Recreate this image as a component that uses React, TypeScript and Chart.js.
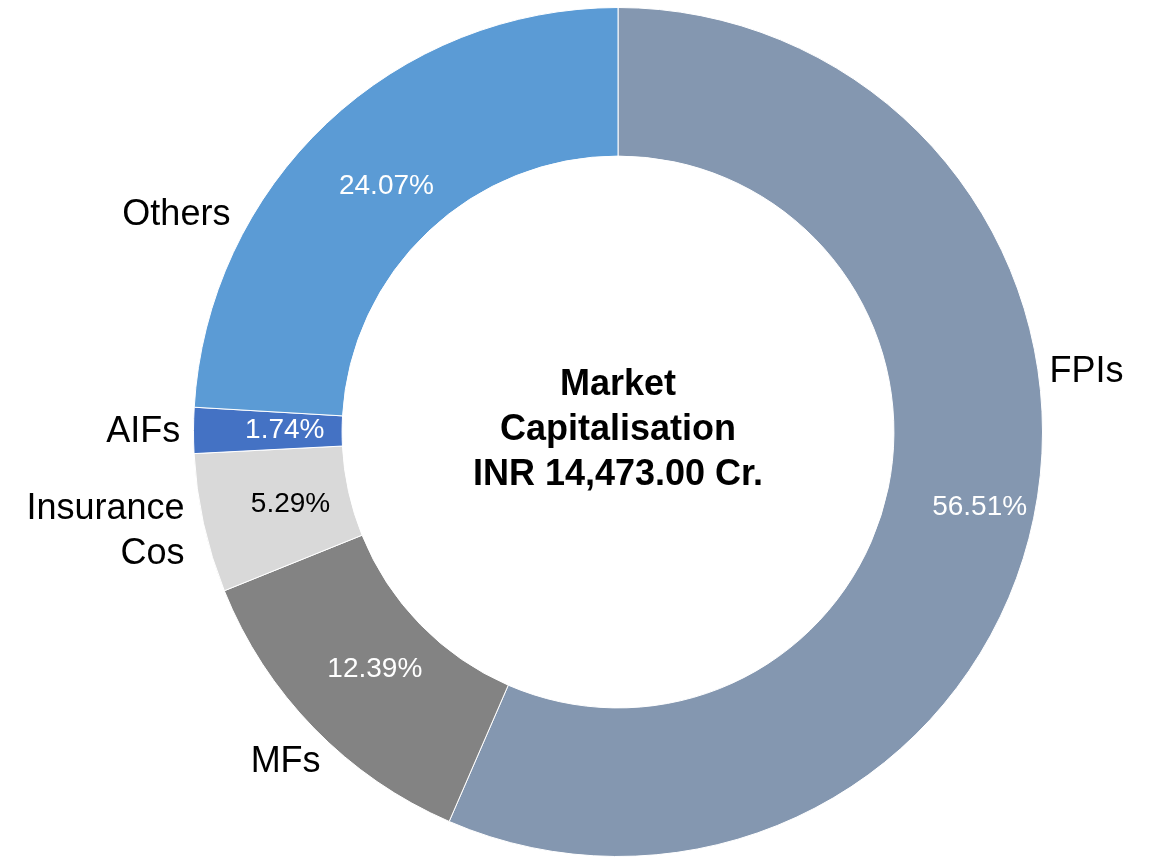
import React, { useEffect, useRef } from "react";
import { Chart, registerables } from "chart.js";

Chart.register(...registerables);

const categories: string[] = ["FPIs", "MFs", "Insurance Cos", "AIFs", "Others"];
const shares: number[] = [56.51, 12.39, 5.29, 1.74, 24.07];
const sliceColors: string[] = ["#8497B0", "#838383", "#D9D9D9", "#4472C4", "#5B9BD5"];
const valueTextColors: string[] = ["#FFFFFF", "#FFFFFF", "#000000", "#FFFFFF", "#FFFFFF"];
const centerLines: string[] = ["Market", "Capitalisation", "INR 14,473.00 Cr."];

// label layout: value label radius (fraction between centre and outer edge)
const valueRadius: number[] = [0.87, 0.8, 0.79, 0.785, 0.795];
// category label anchors: angle (deg clockwise from top), radius factor, alignment
const catAngle: number[] = [82.1, 222, 257, 270, 299.2];
const catRadius: number[] = [1.026, 1.047, 1.048, 1.031, 1.046];
const catAlign: CanvasTextAlign[] = ["left", "right", "right", "right", "right"];

const FONT = '"Liberation Sans", Arial, sans-serif';

const labelPlugin = {
  id: "labelPlugin",
  afterDatasetsDraw(chart: any) {
    const ctx: CanvasRenderingContext2D = chart.ctx;
    const meta = chart.getDatasetMeta(0);
    ctx.save();
    let cx = 0, cy = 0, outer = 0;
    meta.data.forEach((arc: any, i: number) => {
      cx = arc.x; cy = arc.y; outer = arc.outerRadius;
      const mid = (arc.startAngle + arc.endAngle) / 2;
      const r = arc.outerRadius * valueRadius[i];
      ctx.font = `28px ${FONT}`;
      ctx.fillStyle = valueTextColors[i];
      ctx.textAlign = "center";
      ctx.textBaseline = "middle";
      ctx.fillText(shares[i].toFixed(2) + "%", arc.x + r * Math.cos(mid), arc.y + r * Math.sin(mid));
    });
    // category labels
    ctx.font = `36px ${FONT}`;
    ctx.fillStyle = "#000000";
    ctx.textBaseline = "middle";
    categories.forEach((name, i) => {
      const a = (catAngle[i] * Math.PI) / 180 - Math.PI / 2;
      const r = outer * catRadius[i];
      const x = cx + r * Math.cos(a);
      const y = cy + r * Math.sin(a);
      ctx.textAlign = catAlign[i];
      const words = name.split(" ");
      const lh = 45;
      const y0 = y - ((words.length - 1) * lh) / 2;
      words.forEach((w, k) => ctx.fillText(w, x, y0 + k * lh));
    });
    // centre text
    ctx.font = `bold 36px ${FONT}`;
    ctx.textAlign = "center";
    const lh = 45;
    const y0 = cy - ((centerLines.length - 1) * lh) / 2 - 2;
    centerLines.forEach((t, k) => ctx.fillText(t, cx, y0 + k * lh));
    ctx.restore();
  },
};

export default function App() {
  const ref = useRef<HTMLCanvasElement | null>(null);
  useEffect(() => {
    if (!ref.current) return;
    const chart = new Chart(ref.current, {
      type: "doughnut",
      data: {
        labels: categories,
        datasets: [
          {
            data: shares,
            backgroundColor: sliceColors,
            borderColor: "#FFFFFF",
            borderWidth: 1,
          },
        ],
      },
      options: {
        responsive: false,
        animation: false,
        cutout: "65%",
        layout: { padding: { top: 7, bottom: 0, left: 86, right: 0 } },
        plugins: {
          legend: { display: false },
          tooltip: { enabled: false },
        },
      },
      plugins: [labelPlugin],
    });
    return () => chart.destroy();
  }, []);
  return (
    <div style={{ position: "fixed", left: 0, top: 0, width: 1150, height: 857, background: "#FFFFFF" }}>
      <canvas ref={ref} width={1150} height={857} />
    </div>
  );
}
